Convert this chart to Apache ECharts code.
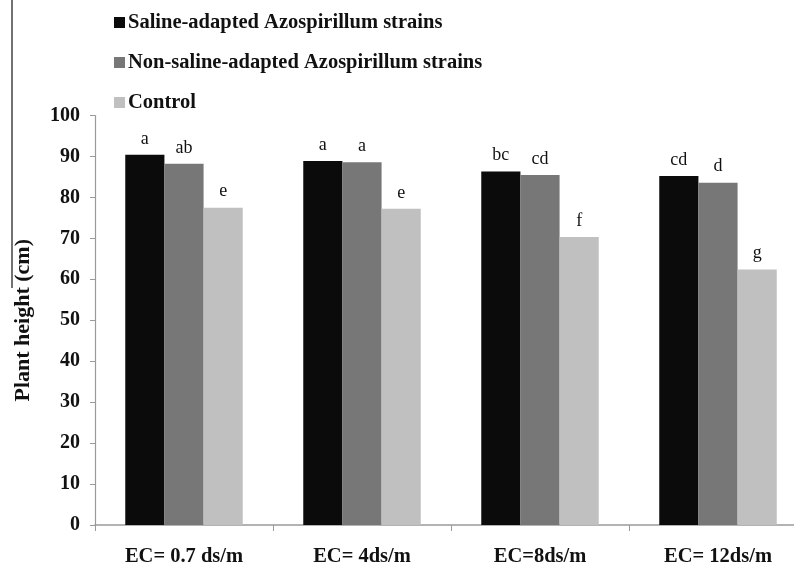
<!DOCTYPE html>
<html>
<head>
<meta charset="utf-8">
<script src="https://cdn.jsdelivr.net/npm/echarts@6/dist/echarts.min.js"></script>
<style>
  html, body { margin: 0; padding: 0; background: #fff; }
  #chart { width: 794px; height: 566px; }
</style>
</head>
<body>
<div id="chart"></div>
<script>
// Salinity levels (irrigation water EC)
const categories = ['EC= 0.7 ds/m', 'EC= 4ds/m', 'EC=8ds/m', 'EC= 12ds/m'];

// Plant height (cm) per treatment
const salineAdapted    = [90.4, 88.9, 86.3, 85.2];
const nonSalineAdapted = [88.2, 88.6, 85.5, 83.6];
const control          = [77.5, 77.2, 70.3, 62.4];

// Significance letters shown above each bar
const salineLetters    = ['a', 'a', 'bc', 'cd'];
const nonSalineLetters = ['ab', 'a', 'cd', 'd'];
const controlLetters   = ['e', 'e', 'f', 'g'];

const seriesNames = [
  'Saline-adapted Azospirillum strains',
  'Non-saline-adapted Azospirillum strains',
  'Control'
];

const serif = '"Liberation Serif", "DejaVu Serif", serif';

function barSeries(name, values, letters, color) {
  return {
    name: name,
    type: 'bar',
    data: values,
    barGap: '0%',
    barCategoryGap: '34%',
    itemStyle: { color: color },
    label: {
      show: true,
      position: 'top',
      distance: 7,
      fontFamily: serif,
      fontSize: 18,
      color: '#111',
      formatter: p => letters[p.dataIndex]
    }
  };
}

const chart = echarts.init(document.getElementById('chart'));
chart.setOption({
  animation: false,
  backgroundColor: '#fff',
  legend: {
    orient: 'vertical',
    left: 109,
    top: 7,
    itemGap: 19,
    itemWidth: 11,
    itemHeight: 11,
    icon: 'rect',
    textStyle: { fontFamily: serif, fontWeight: 'bold', fontSize: 20.5, color: '#111', padding: [0, 0, 0, -2] },
    data: seriesNames
  },
  grid: { left: 95, top: 115.5, width: 712, bottom: 41, outerBoundsMode: 'none', containLabel: false },
  xAxis: {
    type: 'category',
    data: categories,
    axisLine: { lineStyle: { color: '#9a9a9a', width: 1.5 } },
    axisTick: { show: true, length: 6, lineStyle: { color: '#9a9a9a' } },
    axisLabel: { fontFamily: serif, fontWeight: 'bold', fontSize: 20.5, color: '#111', margin: 21 }
  },
  yAxis: {
    type: 'value',
    min: 0,
    max: 100,
    interval: 10,
    name: 'Plant height (cm)',
    nameLocation: 'middle',
    nameGap: 61,
    nameTextStyle: { fontFamily: serif, fontWeight: 'bold', fontSize: 22, color: '#111' },
    axisLine: { show: true, lineStyle: { color: '#9a9a9a', width: 1.2 } },
    axisTick: { show: true, length: 5, lineStyle: { color: '#9a9a9a' } },
    splitLine: { show: false },
    axisLabel: { fontFamily: serif, fontWeight: 'bold', fontSize: 20, color: '#111', margin: 15 }
  },
  graphic: [
    { type: 'line', shape: { x1: 12, y1: 0, x2: 12, y2: 288 }, style: { stroke: '#444', lineWidth: 1.5 } }
  ],
  series: [
    barSeries(seriesNames[0], salineAdapted, salineLetters, '#0b0b0b'),
    barSeries(seriesNames[1], nonSalineAdapted, nonSalineLetters, '#777777'),
    barSeries(seriesNames[2], control, controlLetters, '#c0c0c0')
  ]
});
</script>
</body>
</html>
